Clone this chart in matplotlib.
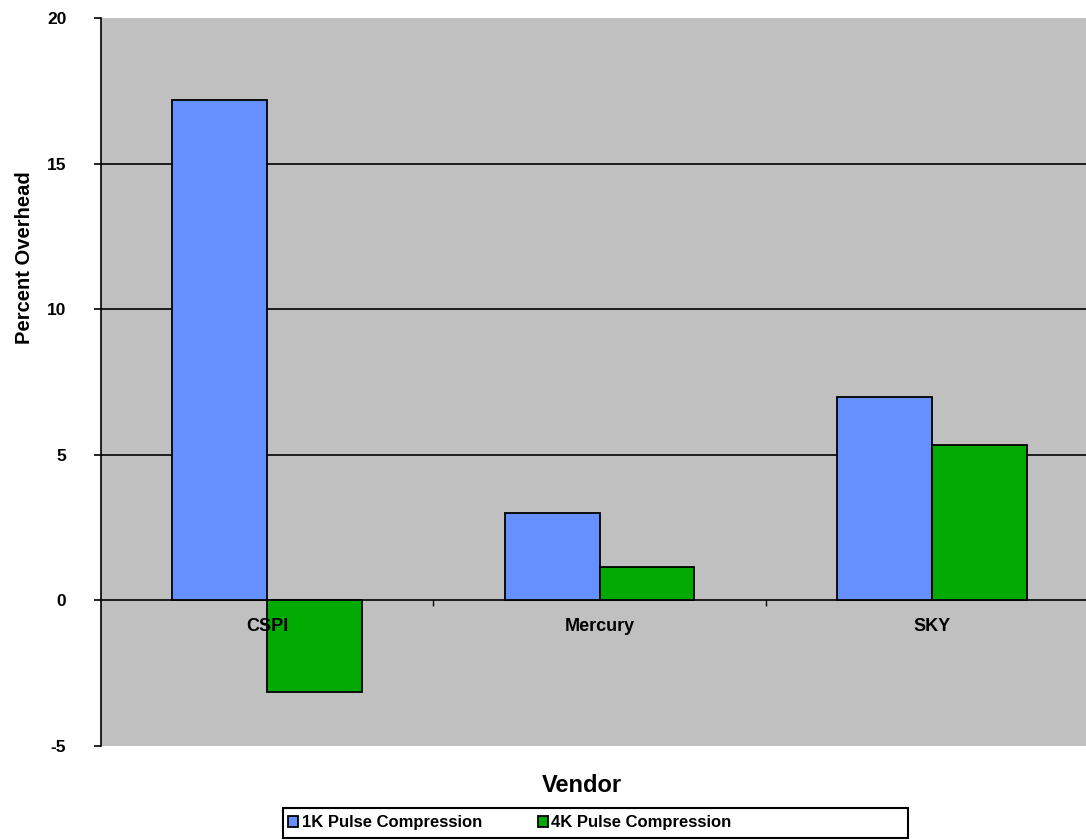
import numpy as np
import matplotlib.pyplot as plt
from matplotlib.patches import Patch, Rectangle

# =========================
# data
# =========================
vendors = ["CSPI", "Mercury", "SKY"]
series_names = ["1K Pulse Compression", "4K Pulse Compression"]
pulse_1k = [17.2, 3.0, 7.0]
pulse_4k = [-3.15, 1.15, 5.35]
y_ticks = [-5, 0, 5, 10, 15, 20]

col_1k = "#6690FF"
col_4k = "#00AA00"

plt.rcParams["font.family"] = ["Liberation Sans", "DejaVu Sans"]
plt.rcParams["font.weight"] = "bold"
plt.rcParams["axes.unicode_minus"] = False

fig = plt.figure(figsize=(10.86, 8.4), dpi=100)
ax = fig.add_axes([101 / 1086, 1 - 746 / 840, 997 / 1086, 728 / 840])
ax.set_facecolor("#C0C0C0")

x = np.arange(len(vendors))
w = 1 / 3.5
ax.bar(x - w / 2, pulse_1k, w, color=col_1k, edgecolor="black", linewidth=1.3, zorder=3)
ax.bar(x + w / 2, pulse_4k, w, color=col_4k, edgecolor="black", linewidth=1.3, zorder=3)

ax.set_xlim(-0.5, 2.5)
ax.set_ylim(-5, 20)

# gridlines
for yv in [5, 10, 15]:
    ax.axhline(yv, color="black", linewidth=1.2, zorder=1)

ax.spines["top"].set_visible(False)
ax.spines["right"].set_visible(False)
ax.spines["bottom"].set_position(("data", 0))
ax.spines["bottom"].set_linewidth(1.2)
ax.spines["bottom"].set_zorder(2)
ax.spines["left"].set_linewidth(1.2)

ax.set_yticks(y_ticks)
ax.tick_params(axis="y", length=5, width=1.2, pad=20, labelsize=12.5)
ax.set_xticks(x)
ax.set_xticklabels(vendors, fontsize=13, fontweight="bold")
ax.tick_params(axis="x", which="major", length=0, pad=13)
ax.set_xticks([0.5, 1.5], minor=True)
ax.tick_params(axis="x", which="minor", length=4, width=1, direction="out")
ax.xaxis.set_zorder(5)  # labels over the bars, like the original
for lbl in ax.get_yticklabels():
    lbl.set_fontweight("bold")

fig.text(25 / 1086, 1 - 258 / 840, "Percent Overhead", rotation=90,
         ha="center", va="center", fontsize=14.5, fontweight="bold")
fig.text(582 / 1086, 1 - 786 / 840, "Vendor", ha="center", va="center",
         fontsize=17, fontweight="bold")

# legend box
fig.patches.append(Rectangle((283 / 1086, 2 / 840), 625 / 1086, 30 / 840,
                             transform=fig.transFigure, facecolor="white",
                             edgecolor="black", linewidth=1.5))
handles = [Patch(facecolor=col_1k, edgecolor="black", linewidth=1.3),
           Patch(facecolor=col_4k, edgecolor="black", linewidth=1.3)]
fig.legend(handles, series_names, loc="center left",
           bbox_to_anchor=(285 / 1086, 1 - 823 / 840), ncol=2, frameon=False,
           prop={"size": 12, "weight": "bold"}, handlelength=0.6,
           handleheight=0.6, handletextpad=0.2, columnspacing=3.35,
           borderpad=0.2, borderaxespad=0.0)

fig.savefig("out.png", dpi=100, facecolor="white")
